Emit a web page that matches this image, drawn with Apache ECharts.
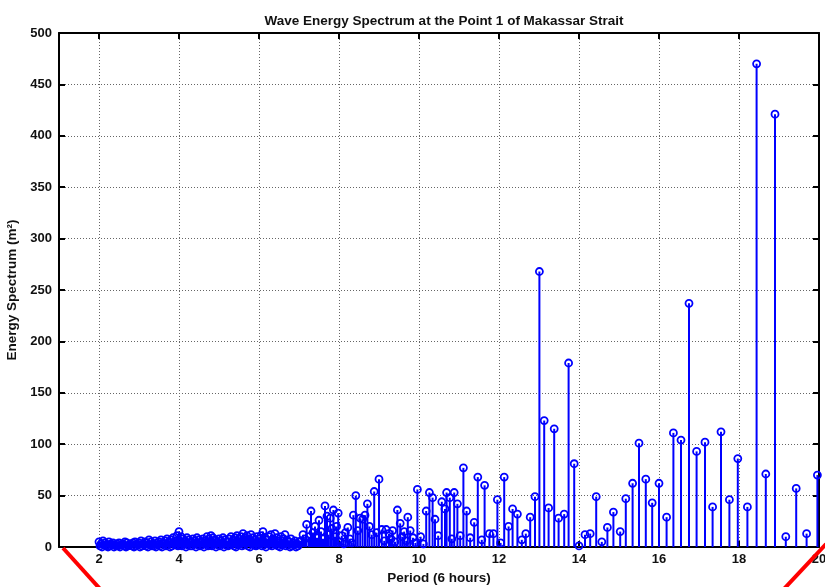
<!DOCTYPE html>
<html><head><meta charset="utf-8">
<script src="https://cdn.jsdelivr.net/npm/echarts@6/dist/echarts.min.js"></script>
<style>html,body{margin:0;padding:0;background:#fff}#c{width:825px;height:587px}</style>
</head><body><div id="c"></div>
<script>
// Period (6 hours) of each spectral line
const periods = [
 2.00,2.05,2.10,2.15,2.20,2.25,2.30,2.35,2.40,2.45,2.50,2.55,2.60,2.65,2.70,2.75,2.80,2.85,2.90,2.95,
 3.00,3.05,3.10,3.15,3.20,3.25,3.30,3.35,3.40,3.45,3.50,3.55,3.60,3.65,3.70,3.75,3.80,3.85,3.90,3.95,
 4.00,4.05,4.10,4.15,4.20,4.25,4.30,4.35,4.40,4.45,4.50,4.55,4.60,4.65,4.70,4.75,4.80,4.85,4.90,4.95,
 5.00,5.05,5.10,5.15,5.20,5.25,5.30,5.35,5.40,5.45,5.50,5.55,5.60,5.65,5.70,5.75,5.80,5.85,5.90,5.95,
 6.00,6.05,6.10,6.15,6.20,6.25,6.30,6.35,6.40,6.45,6.50,6.55,6.60,6.65,6.70,6.75,6.80,6.85,6.90,6.95,
 7.00,7.05,7.10,7.15,7.19,7.25,7.30,7.35,7.40,7.45,7.50,7.55,7.60,7.65,7.70,7.74,7.78,7.82,7.86,7.90,
 7.94,7.98,8.03,8.07,8.12,8.16,8.22,8.27,8.32,8.36,8.42,8.47,8.53,8.59,8.65,8.71,8.76,8.82,8.88,8.94,
 9.00,9.07,9.13,9.18,9.25,9.30,9.34,9.40,9.46,9.53,9.58,9.63,9.68,9.72,9.78,9.85,9.91,9.96,10.04,10.11,
 10.18,10.26,10.34,10.40,10.48,10.57,10.65,10.69,10.77,10.82,10.88,10.96,11.03,11.11,11.19,11.28,11.38,11.47,11.57,11.64,
 11.76,11.86,11.96,12.04,12.13,12.24,12.34,12.46,12.57,12.67,12.78,12.90,13.01,13.13,13.24,13.38,13.49,13.63,13.74,13.88,
 14.00,14.15,14.28,14.43,14.57,14.71,14.86,15.03,15.17,15.34,15.50,15.67,15.83,16.00,16.19,16.36,16.55,16.75,16.94,17.15,
 17.34,17.55,17.76,17.97,18.21,18.44,18.67,18.90,19.17,19.43,19.69,19.96,
 // interleaved low-energy lines of the dense short-period band
 2.025,2.075,2.125,2.175,2.225,2.275,2.325,2.375,2.425,2.475,2.525,2.575,2.625,2.675,2.725,2.775,2.825,2.875,2.925,2.975,
 3.025,3.075,3.125,3.175,3.225,3.275,3.325,3.375,3.425,3.475,3.525,3.575,3.625,3.675,3.725,3.775,3.825,3.875,3.925,3.975,
 4.025,4.075,4.125,4.175,4.225,4.275,4.325,4.375,4.425,4.475,4.525,4.575,4.625,4.675,4.725,4.775,4.825,4.875,4.925,4.975,
 5.025,5.075,5.125,5.175,5.225,5.275,5.325,5.375,5.425,5.475,5.525,5.575,5.625,5.675,5.725,5.775,5.825,5.875,5.925,5.975,
 6.025,6.075,6.125,6.175,6.225,6.275,6.325,6.375,6.425,6.475,6.525,6.575,6.625,6.675,6.725,6.775,6.825,6.875,6.925,6.975
];
// Energy spectrum (m^2)
const energy = [
 5,3,6,4,2,5,3,4,2,3,4,2,3,5,4,2,3,4,5,3,
 4,6,3,5,4,7,5,3,6,4,5,7,4,6,8,5,7,9,6,11,
 15,10,8,6,9,7,5,8,6,9,7,5,8,6,10,8,11,9,7,5,
 8,6,9,7,5,8,10,7,9,11,8,10,13,9,11,8,12,9,7,10,
 8,11,15,9,7,10,12,8,13,9,6,10,8,12,7,5,8,4,6,3,
 5,6,12,8,22,10,35,14,20,9,26,15,8,40,30,12,28,18,36,10,
 20,33,5,11,3,14,19,8,4,31,50,16,28,27,31,42,20,12,54,14,
 66,17,6,17,13,8,16,5,36,23,10,15,6,29,16,9,4,56,10,3,
 35,53,48,27,11,44,37,53,48,8,53,42,11,77,35,9,24,68,7,60,
 13,13,46,4,68,20,37,32,7,13,29,49,268,123,38,115,28,32,179,81,
 1,12,13,49,5,19,34,15,47,62,101,66,43,62,29,111,104,237,93,102,
 39,112,46,86,39,470,71,421,10,57,13,70,
 1,0,2,1,0,1,2,0,1,1,0,2,1,0,1,2,1,0,1,2,
 0,1,2,1,0,2,1,1,0,2,1,0,3,1,2,0,1,3,2,1,
 2,1,3,0,2,1,1,3,0,2,1,2,0,3,1,2,1,3,0,2,
 1,3,0,2,1,2,3,1,0,2,3,1,2,4,1,0,3,2,1,2,
 3,1,2,0,3,2,1,4,2,1,0,2,3,1,2,0,1,2,0,1
];
const xTicks = [2,4,6,8,10,12,14,16,18,20];
const yMin = 0, yMax = 500, yStep = 50;
const xMin = 1, xMax = 20;

const pts = periods.map((p,i)=>[p, energy[i]]);
const blue = '#0000ff';
const axisCol = '#000';
const font = 'Liberation Sans, Arial, sans-serif';
const gridLine = {show:true, lineStyle:{color:'#666', type:[1,2], width:1}};
const labelStyle = {color:'#111', fontFamily:font, fontWeight:'bold', fontSize:13};
const nameStyle = {fontFamily:font, fontWeight:'bold', fontSize:13.5, color:'#111'};

const chart = echarts.init(document.getElementById('c'), null, {renderer:'canvas'});
chart.setOption({
  backgroundColor:'#fff',
  animation:false,
  title:{
    text:'Wave Energy Spectrum at the Point 1 of Makassar Strait',
    left:439, top:9, textAlign:'center',
    textStyle:{fontFamily:font, fontWeight:'bold', fontSize:13.5, color:'#111'}
  },
  grid:{left:59, right:6, top:33, bottom:40, containLabel:false, outerBoundsMode:'none'},
  xAxis:[{
    type:'value', min:xMin, max:xMax, position:'bottom',
    axisLine:{show:true, onZero:false, lineStyle:{color:axisCol, width:2}},
    axisTick:{show:true, inside:true, length:6, customValues:xTicks, lineStyle:{color:axisCol, width:2}},
    axisLabel:Object.assign({customValues:xTicks, margin:6}, labelStyle),
    splitLine:gridLine,
    name:'Period (6 hours)', nameLocation:'middle', nameGap:22,
    nameTextStyle:nameStyle
  },{
    type:'value', min:xMin, max:xMax, position:'top',
    axisLine:{show:true, onZero:false, lineStyle:{color:axisCol, width:2}},
    axisTick:{show:true, inside:true, length:6, customValues:xTicks, lineStyle:{color:axisCol, width:2}},
    axisLabel:{show:false}, splitLine:{show:false}
  }],
  yAxis:[{
    type:'value', min:yMin, max:yMax, interval:yStep, position:'left',
    axisLine:{show:true, onZero:false, lineStyle:{color:axisCol, width:2}},
    axisTick:{show:true, inside:true, length:6, lineStyle:{color:axisCol, width:2}},
    axisLabel:Object.assign({margin:7}, labelStyle),
    splitLine:gridLine,
    name:'Energy Spectrum (m²)', nameLocation:'middle', nameGap:32, nameRotate:90,
    nameTextStyle:nameStyle
  },{
    type:'value', min:yMin, max:yMax, interval:yStep, position:'right',
    axisLine:{show:true, onZero:false, lineStyle:{color:axisCol, width:2}},
    axisTick:{show:true, inside:true, length:6, lineStyle:{color:axisCol, width:2}},
    axisLabel:{show:false}, splitLine:{show:false}
  }],
  series:[{
    type:'custom', xAxisIndex:0, yAxisIndex:0, data:pts, clip:false,
    renderItem:function(params, api){
      const top = api.coord([api.value(0), api.value(1)]);
      const base = api.coord([api.value(0), 0]);
      return {type:'line', shape:{x1:base[0], y1:base[1], x2:top[0], y2:top[1]},
              style:{stroke:blue, lineWidth:2}};
    },
    z:2
  },{
    type:'scatter', xAxisIndex:0, yAxisIndex:0, data:pts,
    symbol:'circle', symbolSize:7,
    itemStyle:{color:'rgba(0,0,0,0)', borderColor:blue, borderWidth:1.8, opacity:1},
    z:3
  }],
  graphic:[
    {type:'line', shape:{x1:63, y1:548, x2:101, y2:590}, style:{stroke:'#ff0000', lineWidth:4}, z:10},
    {type:'line', shape:{x1:826, y1:544, x2:783, y2:590}, style:{stroke:'#ff0000', lineWidth:4}, z:10}
  ]
});
</script>
</body></html>
